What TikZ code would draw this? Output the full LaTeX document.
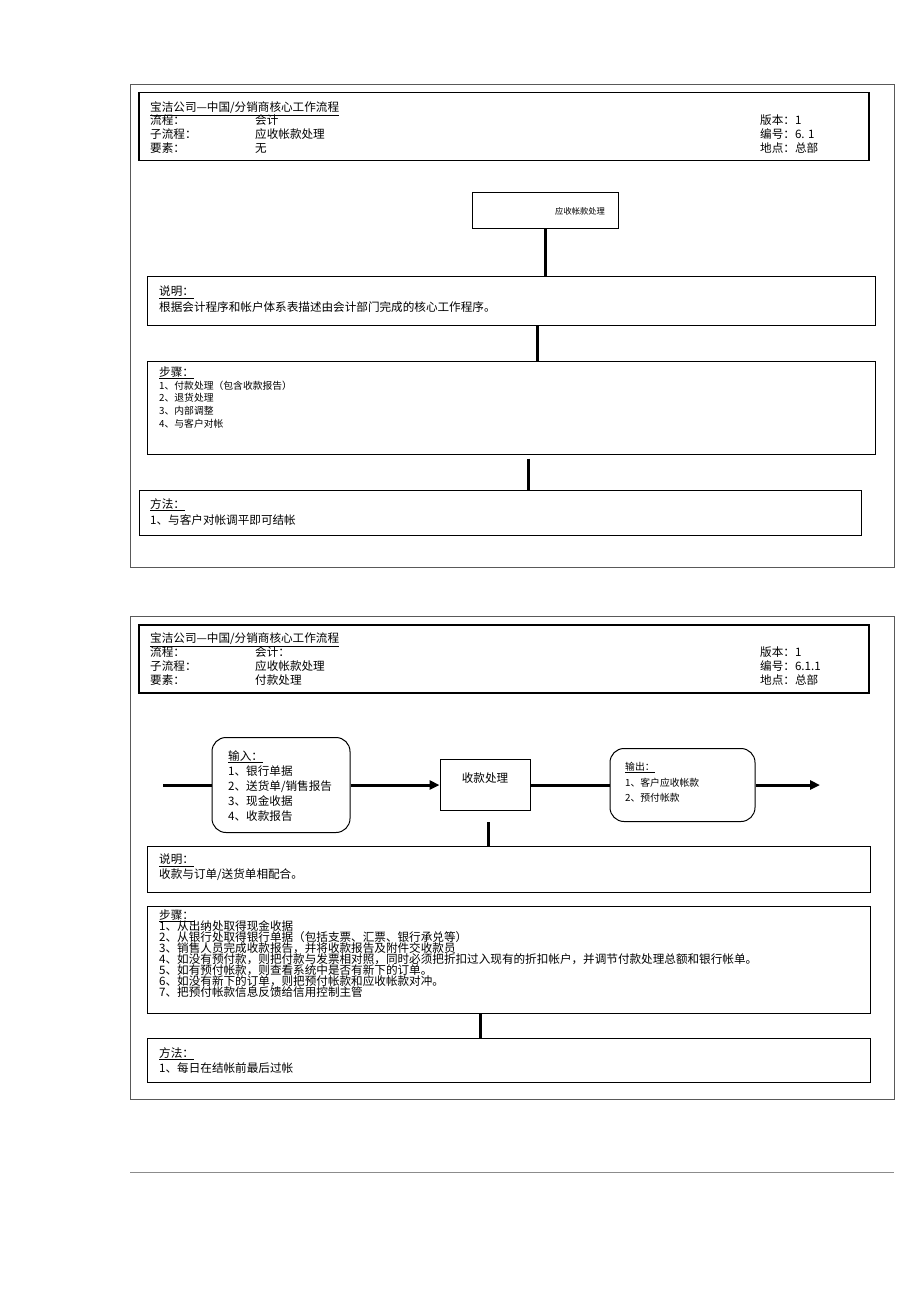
\documentclass[tikz,border=0pt]{standalone}
\usepackage{fontspec}
\setmainfont{Noto Sans CJK SC}
\usetikzlibrary{arrows.meta}
\newcommand\txtl{\fontsize{11.6pt}{14pt}\selectfont}
\newcommand\txtm{\fontsize{9.8pt}{12pt}\selectfont}
\newcommand\txts{\fontsize{8.3pt}{10pt}\selectfont}

\begin{document}
\begin{tikzpicture}[x=1pt, y=-1pt,
    frame/.style={draw=black!65, line width=0.8pt},
    head/.style={draw, line width=1.4pt, minimum width=730pt, minimum height=68pt, inner sep=0pt},
    box/.style={draw, line width=1pt, inner sep=0pt},
    rbox/.style={box, rounded corners=14pt},
    txt/.style={anchor=west, inner sep=0pt, text height=10pt, text depth=1.4pt, font=\txtl},
    conn/.style={line width=3pt},
    flow/.style={line width=3pt, -{Triangle[length=10pt, width=9pt]}}]
    \useasboundingbox (0,0) rectangle (920,1302);

    \draw[frame] (130,84) rectangle (894,567);
    \node[head] (hd1) at (504,126.5) {};
    \node[txt] (hd1t) at (150,107) {\underline{宝洁公司—中国/分销商核心工作流程}};
    \node[txt] (hd1a) at (150,120) {流程：};
    \node[txt] (hd1b) at (255,120) {会计};
    \node[txt] (hd1c) at (760,120) {版本：1};
    \node[txt] (hd1d) at (150,134) {子流程：};
    \node[txt] (hd1e) at (255,134) {应收帐款处理};
    \node[txt] (hd1f) at (760,134) {编号：6. 1};
    \node[txt] (hd1g) at (150,148) {要素：};
    \node[txt] (hd1h) at (255,148) {无};
    \node[txt] (hd1i) at (760,148) {地点：总部};

    \node[box, minimum width=146pt, minimum height=36pt] (proc1) at (545,210) {};
    \node[txt, font=\txts] (proc1t) at (555,210) {应收帐款处理};

    \node[box, minimum width=728pt, minimum height=49pt] (ex1) at (511,300.5) {};
    \node[txt] (ex1a) at (159,291) {\underline{说明：}};
    \node[txt] (ex1b) at (159,307) {根据会计程序和帐户体系表描述由会计部门完成的核心工作程序。};

    \node[box, minimum width=728pt, minimum height=93pt] (st1) at (511,407.5) {};
    \node[txt] (st1a) at (159,372) {\underline{步骤：}};
    \foreach \s [count=\i] in {1、付款处理（包含收款报告）, 2、退货处理, 3、内部调整, 4、与客户对帐}
        \node[txt, font=\txtm] (st1l\i) at (159,{372+12.75*\i}) {\s};

    \node[box, minimum width=722pt, minimum height=45pt] (me1) at (500,512.5) {};
    \node[txt] (me1a) at (150,504) {\underline{方法：}};
    \node[txt] (me1b) at (150,520) {1、与客户对帐调平即可结帐};

    \draw[conn] (proc1.south) -- (proc1.south |- ex1.north);
    \draw[conn] ([xshift=26pt]ex1.south) -- ([xshift=26pt]ex1.south |- st1.north);
    \draw[conn] ([xshift=17pt, yshift=-4pt]st1.south) -- ([xshift=17pt]st1.south |- me1.north);

    \draw[frame] (130,616) rectangle (894,1099);
    \node[head] (hd2) at (504,659) {};
    \node[txt] (hd2t) at (150,638) {\underline{宝洁公司—中国/分销商核心工作流程}};
    \node[txt] (hd2a) at (150,652) {流程：};
    \node[txt] (hd2b) at (255,652) {会计：};
    \node[txt] (hd2c) at (760,652) {版本：1};
    \node[txt] (hd2d) at (150,666) {子流程：};
    \node[txt] (hd2e) at (255,666) {应收帐款处理};
    \node[txt] (hd2f) at (760,666) {编号：6.1.1};
    \node[txt] (hd2g) at (150,680) {要素：};
    \node[txt] (hd2h) at (255,680) {付款处理};
    \node[txt] (hd2i) at (760,680) {地点：总部};

    \coordinate (src) at (163,785);
    \coordinate (snk) at (820,785);
    \node[rbox, minimum width=138pt, minimum height=95pt] (in) at (281,785) {};
    \node[txt] (ina) at (228,756) {\underline{输入：}};
    \foreach \s [count=\i] in {1、银行单据, 2、送货单/销售报告, 3、现金收据, 4、收款报告}
        \node[txt] (inl\i) at (228,{756+15*\i}) {\s};

    \node[box, minimum width=90pt, minimum height=51pt] (rc) at (485,785) {};
    \node[txt, anchor=center] (rct) at (485,778) {收款处理};

    \node[rbox, minimum width=145pt, minimum height=73pt] (out) at (682.5,785) {};
    \node[txt, font=\txtm] (outa) at (625,766) {\underline{输出：}};
    \node[txt, font=\txtm] (outb) at (625,782) {1、客户应收帐款};
    \node[txt, font=\txtm] (outc) at (625,797) {2、预付帐款};

    \draw[conn] (src) -- (in.west);
    \draw[flow] (in.east) -- (rc.west);
    \draw[conn] (rc.east) -- (out.west);
    \draw[flow] (out.east) -- (snk);

    \node[box, minimum width=723pt, minimum height=46pt] (ex2) at (508.5,869) {};
    \node[txt] (ex2a) at (159,859) {\underline{说明：}};
    \node[txt] (ex2b) at (159,874) {收款与订单/送货单相配合。};

    \node[box, minimum width=723pt, minimum height=107pt] (st2) at (508.5,959.5) {};
    \node[txt] (st2a) at (159,915) {\underline{步骤：}};
    \foreach \s [count=\i] in {1、从出纳处取得现金收据,
        2、从银行处取得银行单据（包括支票、汇票、银行承兑等）,
        3、销售人员完成收款报告，并将收款报告及附件交收款员,
        4、如没有预付款，则把付款与发票相对照，同时必须把折扣过入现有的折扣帐户，并调节付款处理总额和银行帐单。,
        5、如有预付帐款，则查看系统中是否有新下的订单。,
        6、如没有新下的订单，则把预付帐款和应收帐款对冲。,
        7、把预付帐款信息反馈给信用控制主管}
        \node[txt] (st2l\i) at (159,{915+11*\i}) {\s};

    \node[box, minimum width=723pt, minimum height=44pt] (me2) at (508.5,1060) {};
    \node[txt] (me2a) at (159,1053) {\underline{方法：}};
    \node[txt] (me2b) at (159,1068) {1、每日在结帐前最后过帐};

    \draw[conn] ([xshift=3pt, yshift=-11pt]rc.south) -- ([xshift=3pt]rc.south |- ex2.north);
    \draw[conn] ([xshift=-28.5pt]st2.south) -- ([xshift=-28.5pt]st2.south |- me2.north);

    \draw[black!45] (130,1172) -- (894,1172);
\end{tikzpicture}
\end{document}
